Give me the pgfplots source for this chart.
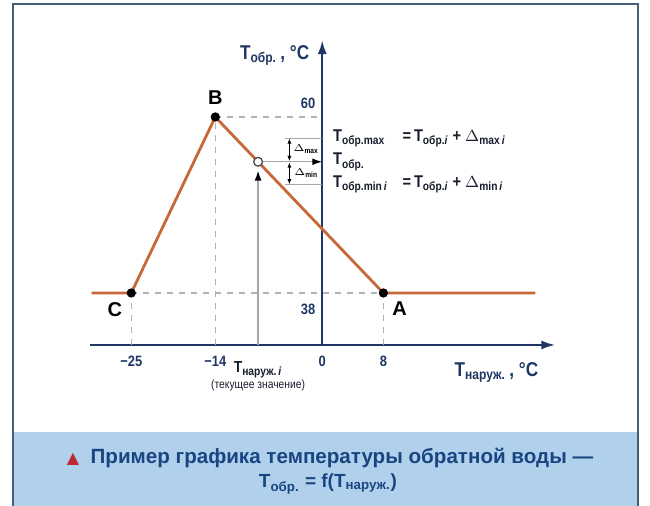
\documentclass[border=0pt]{standalone}
\usepackage{fontspec}
\setmainfont{Liberation Sans}
\newfontfamily\cond[FakeStretch=0.86]{Liberation Sans}
\newfontfamily\dejavu{DejaVu Sans}
\usepackage{pgfplots}
\pgfplotsset{compat=1.18}
\usetikzlibrary{arrows.meta}

\definecolor{AxisBlue}{RGB}{30,55,100}
\definecolor{Curve}{RGB}{198,104,58}
\definecolor{Frame}{RGB}{70,95,120}
\definecolor{CapFill}{RGB}{176,208,235}
\definecolor{CapText}{RGB}{25,70,130}
\definecolor{TriRed}{RGB}{190,40,50}
\definecolor{Ink}{RGB}{25,30,45}

\newcommand\Ts[1]{T\textsubscript{#1}}

\begin{document}
\begin{tikzpicture}
\useasboundingbox (0,0) rectangle (325pt,253pt);
\fill[white] (0,0) rectangle (325pt,253pt);
% caption band and frame
\fill[CapFill] (6.5pt,0) rectangle (319pt,37pt);
\draw[Frame, line width=1.3pt] (6.5pt,-2pt) -- (6.5pt,251pt) -- (319pt,251pt) -- (319pt,-2pt);
\node[text=CapText, font=\bfseries\fontsize{10.3}{12}\selectfont] at (165pt,24pt)
  {{\dejavu\color{TriRed}\fontsize{8}{8}\selectfont ▲}\ \ Пример графика температуры обратной воды —};
\node[text=CapText, font=\bfseries\fontsize{9.5}{11}\selectfont] at (164pt,11pt)
  {\Ts{обр.} = f(\Ts{наруж.})};

\begin{axis}[
  at={(45pt,80.5pt)}, anchor=south west,
  x=3.82pt, y=4pt,
  xmin=-30.4, xmax=30.5, ymin=31.5, ymax=69.6,
  axis x line=bottom, axis y line=center,
  axis line style={draw=AxisBlue, line width=1.1pt, -{Latex[length=7pt,width=4.5pt]}},
  xtick={-25,-14,0,8}, xticklabels={−25,−14,0,8},
  ytick=\empty,
  major tick length=0pt,
  xticklabel style={font=\cond\bfseries\fontsize{7.5}{8}\selectfont, text=AxisBlue, yshift=-2pt},
  clip=false,
]
% dashed guides
\addplot[gray!60, dashed, line width=0.6pt] coordinates {(-14,60) (0,60)};
\addplot[gray!60, dashed, line width=0.6pt] coordinates {(-25,38) (8,38)};
\addplot[gray!60, dashed, line width=0.6pt] coordinates {(-25,31.5) (-25,38)};
\addplot[gray!60, dashed, line width=0.6pt] coordinates {(-14,31.5) (-14,60)};
\addplot[gray!60, dashed, line width=0.6pt] coordinates {(8,31.5) (8,38)};
% current value guides
\addplot[gray!70, line width=0.6pt] coordinates {(-4.9,57.3) (0,57.3)};
\addplot[gray!70, line width=0.6pt] coordinates {(-4.9,51.6) (0,51.6)};
\draw[gray!70, line width=0.7pt, -{Latex[length=5pt,width=3.5pt,color=black]}] (axis cs:-8.4,31.5) -- (axis cs:-8.4,53.3);
\draw[gray!70, line width=0.7pt, -{Latex[length=5pt,width=3.5pt,color=black]}] (axis cs:-7.8,54.4) -- (axis cs:0,54.4);
\draw[black, line width=0.4pt, {Latex[length=2.5pt,width=2pt]}-{Latex[length=2.5pt,width=2pt]}] (axis cs:-4.3,57.3) -- (axis cs:-4.3,54.5);
\draw[black, line width=0.4pt, {Latex[length=2.5pt,width=2pt]}-{Latex[length=2.5pt,width=2pt]}] (axis cs:-4.3,54.3) -- (axis cs:-4.3,51.6);
\node[font=\cond\bfseries\fontsize{5.5}{6}\selectfont] at (axis cs:-2.1,56.0) {$\Delta$\textsubscript{max}};
\node[font=\cond\bfseries\fontsize{5.5}{6}\selectfont] at (axis cs:-2.1,53.0) {$\Delta$\textsubscript{min}};
% the curve
\addplot[Curve, line width=1.4pt] coordinates {(-30.2,38) (-25,38) (-14,60) (8,38) (27.9,38)};
\addplot[only marks, mark=*, mark size=2.1pt, black] coordinates {(-25,38) (-14,60) (8,38)};
\addplot[only marks, mark=*, mark size=2.2pt, mark options={fill=white, draw=black!75, line width=0.6pt}] coordinates {(-8.4,54.4)};
% point labels
\node[font=\bfseries\fontsize{10}{11}\selectfont, anchor=south, yshift=2.5pt] at (axis cs:-14,60) {B};
\node[font=\bfseries\fontsize{10}{11}\selectfont, anchor=north east, xshift=-1pt, yshift=-1pt] at (axis cs:-25,38) {C};
\node[font=\bfseries\fontsize{10}{11}\selectfont, anchor=north west, xshift=1pt, yshift=-1pt] at (axis cs:8,38) {A};
\node[font=\cond\bfseries\fontsize{7.5}{8}\selectfont, text=AxisBlue, anchor=south east, xshift=0pt, yshift=0.5pt] at (axis cs:0,60) {60};
\node[font=\cond\bfseries\fontsize{7.5}{8}\selectfont, text=AxisBlue, anchor=north east, xshift=0pt, yshift=-2pt] at (axis cs:0,38) {38};
% axis labels
\node[font=\cond\bfseries\fontsize{10}{11}\selectfont, text=AxisBlue, anchor=east, xshift=-3pt] at (axis cs:0,67.7) {\Ts{обр.}\,, °C};
\node[font=\cond\bfseries\fontsize{10}{11}\selectfont, text=AxisBlue] at (axis cs:22.8,28.1) {\Ts{наруж.}\,, °C};
\node[font=\cond\bfseries\fontsize{8}{9}\selectfont, text=Ink] at (axis cs:-8.4,28.4) {\Ts{наруж.\,\itshape i}};
\node[font=\cond\fontsize{6}{7}\selectfont, text=Ink] at (axis cs:-8.4,26.5) {(текущее значение)};
% formulas
\node[font=\cond\bfseries\fontsize{8.5}{9}\selectfont, text=Ink, anchor=west] at (axis cs:0.5,57.3) {\Ts{обр.max}};
\node[font=\cond\bfseries\fontsize{8.5}{9}\selectfont, text=Ink, anchor=west] at (axis cs:0.5,54.4) {\Ts{обр.}};
\node[font=\cond\bfseries\fontsize{8.5}{9}\selectfont, text=Ink, anchor=west] at (axis cs:0.5,51.6) {\Ts{обр.min\,\itshape i}};
\node[font=\cond\bfseries\fontsize{8.5}{9}\selectfont, text=Ink, anchor=west] at (axis cs:9.6,57.3) {=\,\Ts{обр.\itshape i} + $\Delta$\textsubscript{max\,\itshape i}};
\node[font=\cond\bfseries\fontsize{8.5}{9}\selectfont, text=Ink, anchor=west] at (axis cs:9.6,51.6) {=\,\Ts{обр.\itshape i} + $\Delta$\textsubscript{min\,\itshape i}};
\end{axis}
\end{tikzpicture}
\end{document}
